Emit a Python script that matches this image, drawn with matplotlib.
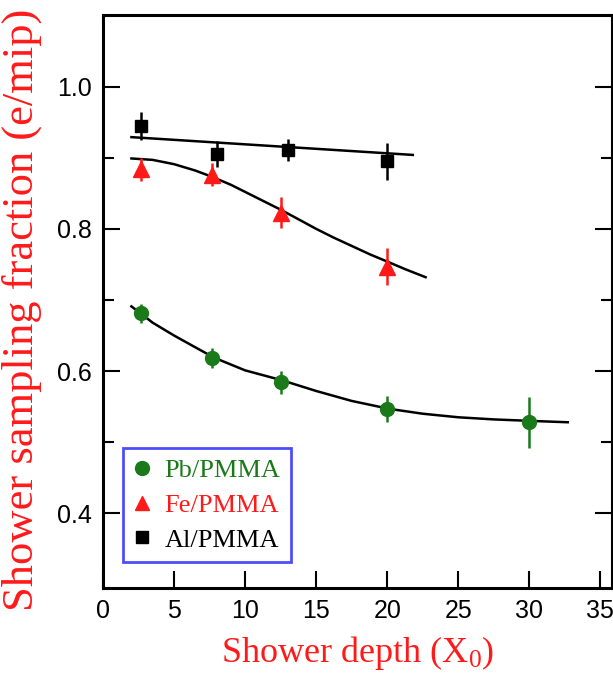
import matplotlib
matplotlib.use("Agg")
import matplotlib.pyplot as plt

# measured points (x = shower depth in X0)
pb_x = [2.7, 7.7, 12.5, 20.0, 30.0]
pb_y = [0.681, 0.619, 0.584, 0.547, 0.528]
pb_err = [0.014, 0.014, 0.016, 0.018, 0.036]

fe_x = [2.7, 7.7, 12.5, 20.0]
fe_y = [0.884, 0.876, 0.823, 0.747]
fe_err = [0.016, 0.016, 0.022, 0.026]

al_x = [2.7, 8.0, 13.0, 20.0]
al_y = [0.945, 0.905, 0.911, 0.895]
al_err = [0.020, 0.018, 0.016, 0.026]

# fitted curves
pb_fit_x = [2.0, 3.5, 5.0, 7.8, 10.0, 12.6, 15.0, 17.5, 20.1, 22.5, 25.0, 27.5, 30.0, 32.7]
pb_fit_y = [0.691, 0.668, 0.650, 0.619, 0.601, 0.587, 0.572, 0.558, 0.547, 0.540, 0.535, 0.532, 0.530, 0.528]

fe_fit_x = [2.0, 3.5, 5.0, 6.5, 7.7, 9.0, 10.0, 11.2, 12.5, 13.8, 15.0, 16.2, 17.5, 18.8, 20.0, 21.3, 22.7]
fe_fit_y = [0.899, 0.897, 0.891, 0.882, 0.873, 0.862, 0.852, 0.840, 0.827, 0.813, 0.800, 0.788, 0.776, 0.764, 0.754, 0.743, 0.732]

al_fit_x = [2.0, 21.8]
al_fit_y = [0.929, 0.904]

green = '#1a7a1a'
red = '#ff1a1a'
serif = ['Liberation Serif', 'DejaVu Serif']

plt.rcParams['mathtext.fontset'] = 'custom'
plt.rcParams['mathtext.rm'] = 'Liberation Serif'

fig = plt.figure(figsize=(6.13, 6.75), dpi=100)
ax = fig.add_axes([0.168, 0.129, 0.830, 0.849])

ax.plot(pb_fit_x, pb_fit_y, color='black', lw=1.8)
ax.plot(fe_fit_x, fe_fit_y, color='black', lw=1.8)
ax.plot(al_fit_x, al_fit_y, color='black', lw=1.8)

ax.errorbar(pb_x, pb_y, yerr=pb_err, fmt='o', color=green, ms=10, elinewidth=1.8, capsize=0)
ax.errorbar(fe_x, fe_y, yerr=fe_err, fmt='^', color=red, ms=11, elinewidth=1.8, capsize=0)
ax.errorbar(al_x, al_y, yerr=al_err, fmt='s', color='black', ms=9, elinewidth=1.8, capsize=0)

# legend handles: markers only
ax.plot([], [], 'o', color=green, ms=10, label='Pb/PMMA')
ax.plot([], [], '^', color=red, ms=10, label='Fe/PMMA')
ax.plot([], [], 's', color='black', ms=8, label='Al/PMMA')

ax.set_xlim(0.15, 35.8)
ax.set_ylim(0.295, 1.101)
ax.set_xticks(range(0, 40, 5))
ax.set_yticks([0.4, 0.6, 0.8, 1.0])
ax.set_yticks([0.5, 0.7, 0.9], minor=True)
ax.tick_params(direction='in', length=12, width=1.5, right=True, labelsize=18, pad=8)
ax.tick_params(which='minor', direction='in', length=8, width=1.5, right=True)
for lbl in ax.get_xticklabels() + ax.get_yticklabels():
    lbl.set_family(['Liberation Sans', 'DejaVu Sans'])
for s in ax.spines.values():
    s.set_linewidth(2.2)

ax.set_xlabel(r'Shower depth ($\mathrm{X_0}$)', color=red, fontsize=26, family=serif, labelpad=8)
ax.set_ylabel('Shower sampling fraction (e/mip)', color=red, fontsize=32, family=serif)
ax.yaxis.set_label_coords(-0.12, 0.485)

leg = ax.legend(loc='lower left', bbox_to_anchor=(0.04, 0.045), frameon=True, fancybox=False,
                handlelength=0.6, handletextpad=0.55, borderpad=0.4, labelspacing=0.42,
                borderaxespad=0, prop={'family': serif, 'size': 19})
leg.get_frame().set_edgecolor('#2020ff')
leg.get_frame().set_linewidth(2)
for txt, c in zip(leg.get_texts(), [green, red, 'black']):
    txt.set_color(c)

fig.savefig('out.png', dpi=100)
